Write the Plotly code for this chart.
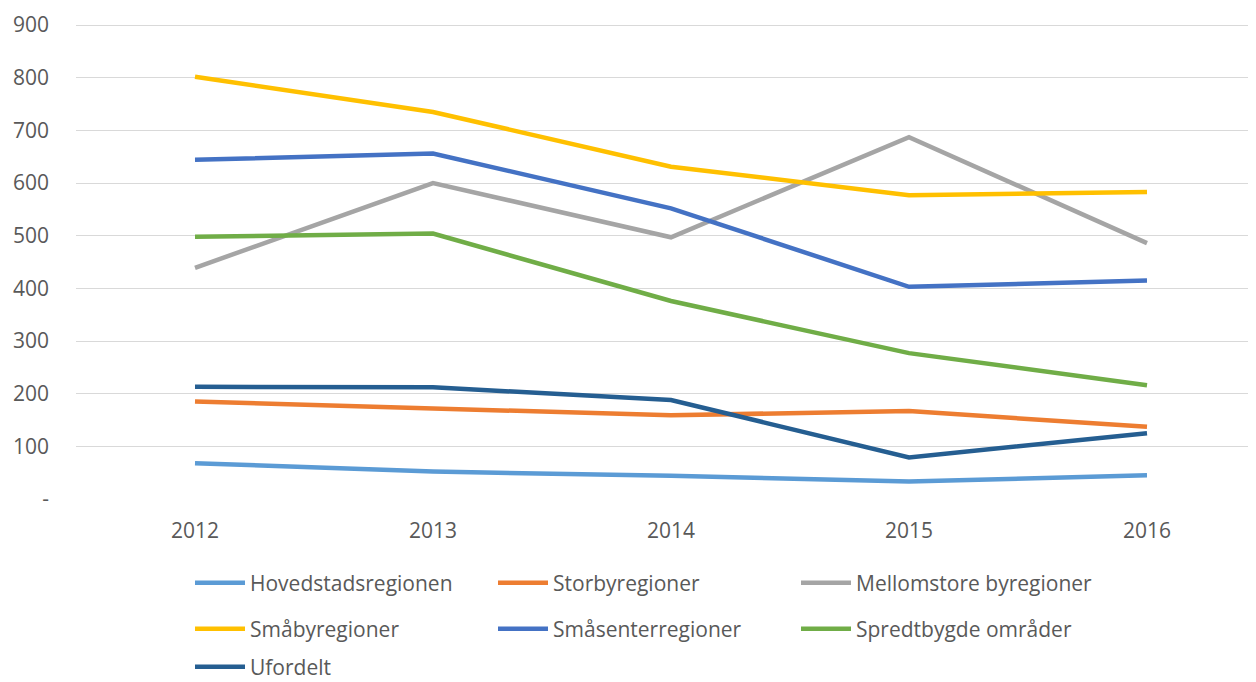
import plotly.graph_objects as go

years = ["2012", "2013", "2014", "2015", "2016"]

hovedstad = [68, 52, 44, 33, 45]
storby = [185, 171, 159, 167, 137]
mellomstore = [439, 600, 497, 687, 486]
smaaby = [802, 735, 631, 577, 583]
smaasenter = [644, 656, 552, 403, 415]
spredtbygd = [498, 504, 376, 277, 216]
ufordelt = [213, 212, 188, 79, 125]

y_ticks = [0, 100, 200, 300, 400, 500, 600, 700, 800, 900]
y_ticktext = ["-", "100", "200", "300", "400", "500", "600", "700", "800", "900"]

series = [
    ("Hovedstadsregionen", hovedstad, "#5B9BD5", "legend"),
    ("Storbyregioner", storby, "#ED7D31", "legend"),
    ("Mellomstore byregioner", mellomstore, "#A5A5A5", "legend"),
    ("Småbyregioner", smaaby, "#FFC000", "legend2"),
    ("Småsenterregioner", smaasenter, "#4472C4", "legend2"),
    ("Spredtbygde områder", spredtbygd, "#70AD47", "legend2"),
    ("Ufordelt", ufordelt, "#255E91", "legend3"),
]

fig = go.Figure()
for name, vals, col, leg in series:
    fig.add_trace(go.Scatter(
        x=years, y=vals, name=name, mode="lines",
        line=dict(color=col, width=4.5),
        legend=leg,
    ))

# the page puts the figure 8px in from the top-left corner
W, H = 1248, 674
font = dict(family="Open Sans", size=21, color="#595959")


def row_legend(ypix):
    return dict(
        orientation="h", xref="container", yref="container",
        x=182 / W, y=1 - (ypix - 8) / H, xanchor="left", yanchor="middle",
        entrywidth=238, entrywidthmode="pixels", itemwidth=50,
        font=font, bgcolor="rgba(0,0,0,0)",
    )


fig.update_layout(
    width=W, height=H,
    paper_bgcolor="white", plot_bgcolor="white",
    margin=dict(l=68, r=0, t=16, b=183),
    font=font,
    xaxis=dict(
        # plot area is cut by the right edge, as in the original
        range=[-0.5, 4.458], showgrid=False, showline=False,
        ticks="", ticklabelstandoff=17, tickfont=font,
    ),
    yaxis=dict(
        range=[0, 902], tickvals=y_ticks, ticktext=y_ticktext,
        showgrid=True, gridcolor="#D9D9D9", gridwidth=1,
        zeroline=False, showline=False, ticks="",
        ticklabelstandoff=26, tickfont=font,
    ),
    legend=row_legend(583),
    legend2=row_legend(629),
    legend3=row_legend(667),
)

fig.write_html("out.html")
